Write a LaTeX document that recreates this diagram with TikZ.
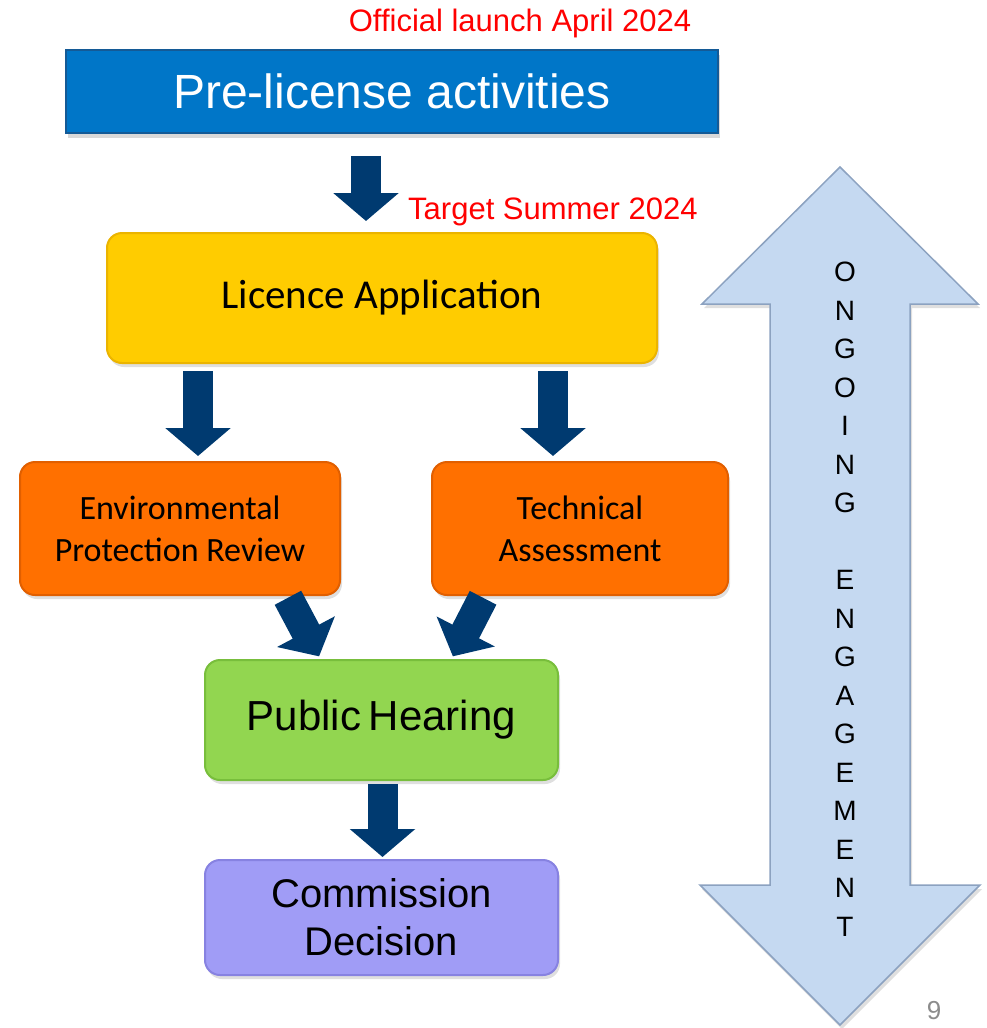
\documentclass[tikz,border=0pt]{standalone}
\usepackage{fontspec}
\setmainfont{Liberation Sans}
\newfontfamily\calibri{Carlito}
\usepackage{tikz}
\usetikzlibrary{positioning,shapes,shadows,arrows.meta}

\definecolor{preblue}{RGB}{0,118,200}
\definecolor{preedge}{RGB}{20,90,150}
\definecolor{licfill}{RGB}{255,204,0}
\definecolor{licedge}{RGB}{235,180,0}
\definecolor{revfill}{RGB}{255,112,0}
\definecolor{revedge}{RGB}{225,95,0}
\definecolor{pubfill}{RGB}{146,214,80}
\definecolor{pubedge}{RGB}{120,190,60}
\definecolor{decfill}{RGB}{160,156,246}
\definecolor{decedge}{RGB}{135,130,225}
\definecolor{flownavy}{RGB}{0,58,112}
\definecolor{engfill}{RGB}{197,217,241}
\definecolor{engedge}{RGB}{140,162,192}
\definecolor{launchred}{RGB}{255,0,0}

\begin{document}
\begin{tikzpicture}[
        x=1pt, y=-1pt,
        box/.style={rounded corners=15pt, line width=2pt, inner sep=0pt, align=center,
            drop shadow={opacity=0.25, shadow xshift=2pt, shadow yshift=-4pt}},
        flow/.style={draw=flownavy, line width=30pt, -{Triangle[width=64pt,length=28pt]}},
        datelabel/.style={text=launchred, inner sep=0pt, font=\fontsize{31}{37}\selectfont}
    ]
    \useasboundingbox (0,0) rectangle (987,1028);

    % Ongoing engagement arrow
    \draw[fill=engfill, draw=engedge, line width=1.5pt, line join=miter,
        drop shadow={opacity=0.25, shadow xshift=2pt, shadow yshift=-4pt}]
        (840,167) -- (978,304) -- (910,304) -- (910,885) -- (980,885)
        -- (840,1025) -- (700,885) -- (770,885) -- (770,304) -- (702,304) -- cycle;
    \node[inner sep=0pt, align=center, font=\fontsize{28}{38.5}\selectfont] (engtext) at (845,599)
        {O\\N\\G\\O\\I\\N\\G\\[38.5pt]E\\N\\G\\A\\G\\E\\M\\E\\N\\T};

    % Boxes
    \node[fill=preblue, draw=preedge, line width=1.5pt, inner sep=0pt,
        minimum width=652pt, minimum height=83pt, text=white,
        font=\fontsize{48}{58}\selectfont,
        drop shadow={opacity=0.3, shadow xshift=2pt, shadow yshift=-5pt}] (pre) at (392,91.5) {Pre-license activities};
    \node[box, fill=licfill, draw=licedge, minimum width=550pt, minimum height=130pt,
        font=\calibri\fontsize{41}{49}\selectfont] (lic) at (382,298) {Licence Application};
    \node[box, fill=revfill, draw=revedge, minimum width=320pt, minimum height=133pt,
        font=\calibri\fontsize{34}{42}\selectfont] (env) at (180,528.5) {Environmental\\Protection Review};
    \node[box, fill=revfill, draw=revedge, minimum width=296pt, minimum height=133pt,
        font=\calibri\fontsize{34}{42}\selectfont] (tech) at (580,528.5) {Technical\\Assessment};
    \node[box, fill=pubfill, draw=pubedge, minimum width=353pt, minimum height=120pt,
        font=\fontsize{42}{50}\selectfont] (pub) at (381.5,720) {Public\hspace{-4pt} Hearing};
    \node[box, fill=decfill, draw=decedge, minimum width=353pt, minimum height=115pt,
        font=\fontsize{40}{48}\selectfont] (dec) at (381.5,917.5) {Commission\\Decision};

    % Dates
    \node[datelabel, anchor=base] (launch) at (520,31) {Official launch April 2024};
    \node[datelabel, anchor=base west] (target) at (408,219) {Target Summer 2024};

    % Flow arrows
    \draw[flow, shorten <=22pt, shorten >=11pt] ([xshift=-26pt]pre.south) -- ([xshift=-16pt]lic.north);
    \draw[flow, shorten <=7pt, shorten >=5pt] ([xshift=-184pt]lic.south) -- ([xshift=18pt]env.north);
    \draw[flow, shorten <=7pt, shorten >=5pt] ([xshift=171pt]lic.south) -- ([xshift=-27pt]tech.north);
    \draw[flow, shorten <=2pt, shorten >=3pt] ([xshift=107pt]env.south) -- ([xshift=-61pt]pub.north);
    \draw[flow, shorten <=2pt, shorten >=3pt] ([xshift=-96pt]tech.south) -- ([xshift=70pt]pub.north);
    \draw[flow, shorten <=3pt, shorten >=2pt] ([xshift=1pt]pub.south) -- ([xshift=1pt]dec.north);

    % Page number
    \node[anchor=south, inner sep=0pt, text=black!45, font=\fontsize{26}{32}\selectfont] (pagenum) at (934,1020) {9};
\end{tikzpicture}
\end{document}
